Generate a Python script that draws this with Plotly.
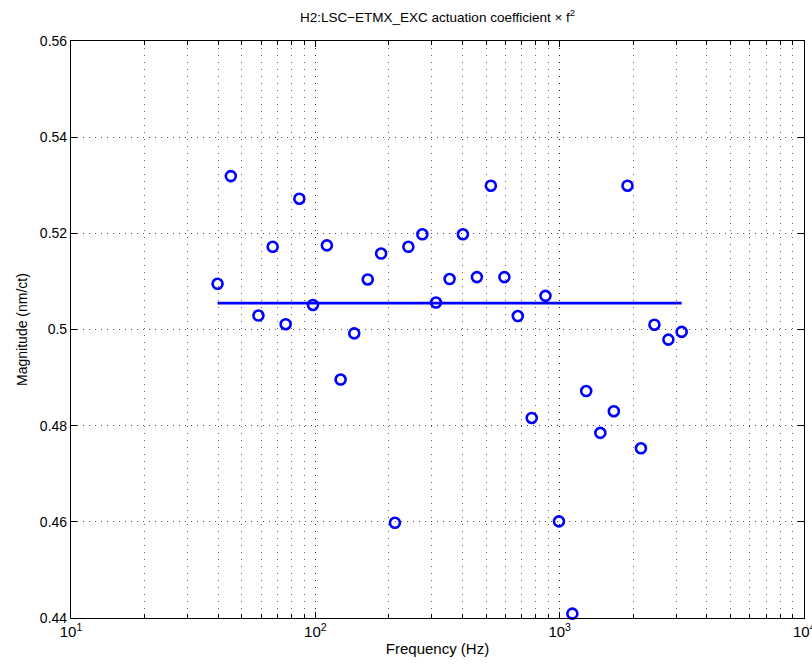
import plotly.graph_objects as go

freq = [39.8, 45.1, 58.5, 66.9, 75.6, 86.0, 97.8, 111.5, 126.9, 144.3, 163.9, 185.9,
        211.7, 240.3, 274.2, 311.8, 354.4, 401.8, 458.4, 522.9, 594.0, 674.0, 768.7,
        874.9, 993.4, 1127, 1284, 1467, 1666, 1895, 2151, 2442, 2786, 3157]
mag = [0.5095, 0.5319, 0.5029, 0.5172, 0.5011, 0.5272, 0.5051, 0.5175, 0.4896, 0.4992,
       0.5104, 0.5158, 0.4598, 0.5172, 0.5198, 0.5056, 0.5105, 0.5198, 0.5109, 0.5299,
       0.5109, 0.5028, 0.4816, 0.5070, 0.4601, 0.4409, 0.4872, 0.4785, 0.4830, 0.5299,
       0.4753, 0.5010, 0.4979, 0.4995]
fit_value = 0.5055

x_tickvals = [10, 100, 1000, 10000]
x_ticktext = ["10<sup>1</sup>", "10<sup>2</sup>", "10<sup>3</sup>", "10<sup>4</sup>"]
y_tickvals = [0.44, 0.46, 0.48, 0.50, 0.52, 0.54, 0.56]

fig = go.Figure()
fig.add_trace(go.Scatter(x=freq, y=mag, mode="markers",
                         marker=dict(symbol="circle-open", size=10, color="#0000ff",
                                     line=dict(width=2.6, color="#0000ff")),
                         showlegend=False, cliponaxis=False))
fig.add_trace(go.Scatter(x=[freq[0], freq[-1]], y=[fit_value, fit_value], mode="lines",
                         line=dict(color="#0000ff", width=2.8), showlegend=False))

font = dict(family="Liberation Sans, Arial, sans-serif", size=13, color="black")
fig.update_layout(
    width=812, height=671,
    margin=dict(l=71, r=8, t=41, b=53, autoexpand=False),
    paper_bgcolor="white", plot_bgcolor="white",
    font=font,
    title=dict(text="H2:LSC−ETMX_EXC actuation coefficient × f<sup>2</sup>",
               x=0.5388, xanchor="center", y=0.982, yanchor="top",
               font=dict(size=13.5)),
)
# last decade label sits on the right edge of the page, as in the reference
fig.add_annotation(x=4, xref="x", y=0, yref="paper", yanchor="top", xanchor="center",
                   text=x_ticktext[-1], showarrow=False, font=dict(size=15), yshift=-1)
fig.update_xaxes(type="log", range=[1, 4], tickvals=x_tickvals[:-1], ticktext=x_ticktext[:-1],
                 automargin=False,
                 showline=True, linecolor="black", linewidth=1.2, mirror="allticks",
                 ticks="inside", ticklen=6, tickcolor="black",
                 showgrid=True, gridcolor="rgba(0,0,0,0.7)", griddash="1px,6px", gridwidth=1,
                 minor=dict(ticks="inside", ticklen=4, tickcolor="black", showgrid=True,
                            gridcolor="rgba(0,0,0,0.6)", griddash="1px,6px", gridwidth=1,
                            dtick="D1"),
                 zeroline=False, tickfont=dict(size=15),
                 title=dict(text="Frequency (Hz)", standoff=4, font=dict(size=15)))
fig.update_yaxes(range=[0.44, 0.56], tickvals=y_tickvals,
                 automargin=False,
                 showline=True, linecolor="black", linewidth=1.2, mirror="allticks",
                 ticks="inside", ticklen=6, tickcolor="black",
                 showgrid=True, gridcolor="rgba(0,0,0,0.7)", griddash="1px,5px", gridwidth=1,
                 zeroline=False, tickfont=dict(size=14),
                 title=dict(text="Magnitude (nm/ct)", standoff=8, font=dict(size=14)))

fig.write_html("out.html")
